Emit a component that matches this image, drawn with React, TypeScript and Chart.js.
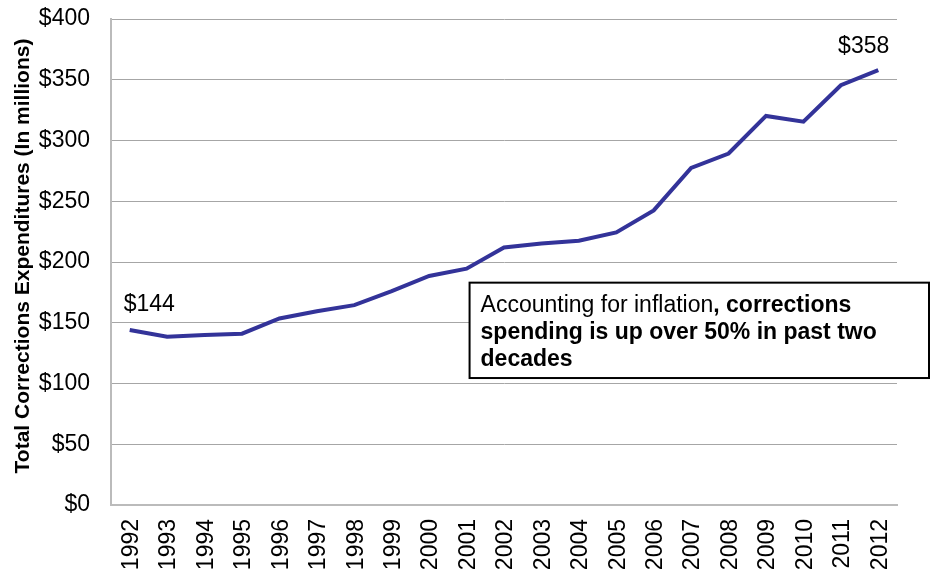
import React, { useEffect, useRef } from "react";
import { Chart, registerables } from "chart.js";

Chart.register(...registerables);

const years = ["1992","1993","1994","1995","1996","1997","1998","1999","2000","2001","2002","2003","2004","2005","2006","2007","2008","2009","2010","2011","2012"];
const spending = [144, 138.5, 140, 141, 153.5, 159.5, 164.5, 176, 188.5, 194.5, 212, 215.3, 217.5, 224.3, 242.5, 277.5, 289.3, 320.2, 315.5, 345.5, 358];
const yTicks = [0, 50, 100, 150, 200, 250, 300, 350, 400];
const yTitle = "Total Corrections Expenditures (In millions)";
const firstLabel = "$144";
const lastLabel = "$358";
const noteLines: { text: string; bold: boolean }[][] = [
  [{ text: "Accounting for inflation", bold: false }, { text: ", corrections", bold: true }],
  [{ text: "spending is up over 50% in past two", bold: true }],
  [{ text: "decades", bold: true }],
];
const noteAnchor = { index: 9, top: 183, bottom: 104.5 };

const FONT = "'Liberation Sans', Arial, Helvetica, sans-serif";

const overlay = {
  id: "overlay",
  afterDraw(chart: any) {
    const ctx = chart.ctx;
    const xs = chart.scales.x;
    const ys = chart.scales.y;
    const area = chart.chartArea;
    ctx.save();
    ctx.fillStyle = "#000";
    ctx.font = `bold 21px ${FONT}`;
    ctx.translate(23, (area.top + area.bottom) / 2 - 6);
    ctx.rotate(-Math.PI / 2);
    ctx.textAlign = "center";
    ctx.textBaseline = "middle";
    ctx.fillText(yTitle, 0, 0);
    ctx.restore();

    ctx.save();
    ctx.fillStyle = "#000";
    ctx.font = `23px ${FONT}`;
    ctx.textBaseline = "alphabetic";
    const p0x = xs.getPixelForValue(0);
    const p0y = ys.getPixelForValue(spending[0]);
    ctx.textAlign = "left";
    ctx.fillText(firstLabel, p0x - 6, p0y - 19);
    const n = spending.length - 1;
    const pnx = xs.getPixelForValue(n);
    const pny = ys.getPixelForValue(spending[n]);
    ctx.textAlign = "right";
    ctx.fillText(lastLabel, pnx + 11, pny - 17);
    ctx.restore();

    ctx.save();
    const left = xs.getPixelForValue(noteAnchor.index) + 3;
    const top = ys.getPixelForValue(noteAnchor.top);
    const bottom = ys.getPixelForValue(noteAnchor.bottom);
    const right = chart.width - 1;
    ctx.fillStyle = "#fff";
    ctx.fillRect(left, top, right - left, bottom - top);
    ctx.strokeStyle = "#000";
    ctx.lineWidth = 2;
    ctx.strokeRect(left, top, right - left, bottom - top);
    ctx.fillStyle = "#000";
    ctx.textAlign = "left";
    ctx.textBaseline = "alphabetic";
    let by = top + 29;
    noteLines.forEach((line) => {
      let x = left + 11;
      line.forEach((seg) => {
        ctx.font = `${seg.bold ? "bold " : ""}23px ${FONT}`;
        ctx.fillText(seg.text, x, by);
        x += ctx.measureText(seg.text).width;
      });
      by += 27;
    });
    ctx.restore();
  },
};

export default function App() {
  const ref = useRef<HTMLCanvasElement | null>(null);
  useEffect(() => {
    document.body.style.margin = "0";
    const canvas = ref.current!;
    const chart = new Chart(canvas, {
      type: "line",
      data: {
        labels: years,
        datasets: [
          {
            data: spending,
            borderColor: "#333399",
            borderWidth: 4,
            pointRadius: 0,
            tension: 0,
            fill: false,
          },
        ],
      },
      options: {
        animation: false,
        responsive: false,
        devicePixelRatio: 1,
        layout: { padding: { top: 19, right: 33, left: 0, bottom: 0 } },
        plugins: { legend: { display: false }, tooltip: { enabled: false } },
        scales: {
          x: {
            offset: true,
            grid: { display: false, drawTicks: false },
            border: { display: true, color: "#bbbbbb", width: 2 },
            ticks: {
              color: "#000",
              font: { family: FONT, size: 23 },
              minRotation: 90,
              maxRotation: 90,
              padding: 14,
              labelOffset: 2,
              autoSkip: false,
            },
            afterFit: (s: any) => {
              s.height = 69;
              s.paddingLeft = 0;
              s.paddingRight = 0;
            },
          },
          y: {
            min: 0,
            max: 400,
            afterBuildTicks: (s: any) => {
              s.ticks = yTicks.map((v) => ({ value: v }));
            },
            grid: { color: "#a6a6a6", lineWidth: 1, drawTicks: false },
            border: { display: true, color: "#bbbbbb", width: 2 },
            ticks: {
              color: "#000",
              font: { family: FONT, size: 23 },
              padding: 21,
              callback: (v: any) => "$" + v,
            },
            afterFit: (s: any) => {
              s.width = 111;
              s.paddingTop = 0;
              s.paddingBottom = 0;
            },
          },
        },
      },
      plugins: [overlay],
    });
    return () => chart.destroy();
  }, []);
  return <canvas ref={ref} width={930} height={574} style={{ display: "block" }} />;
}
